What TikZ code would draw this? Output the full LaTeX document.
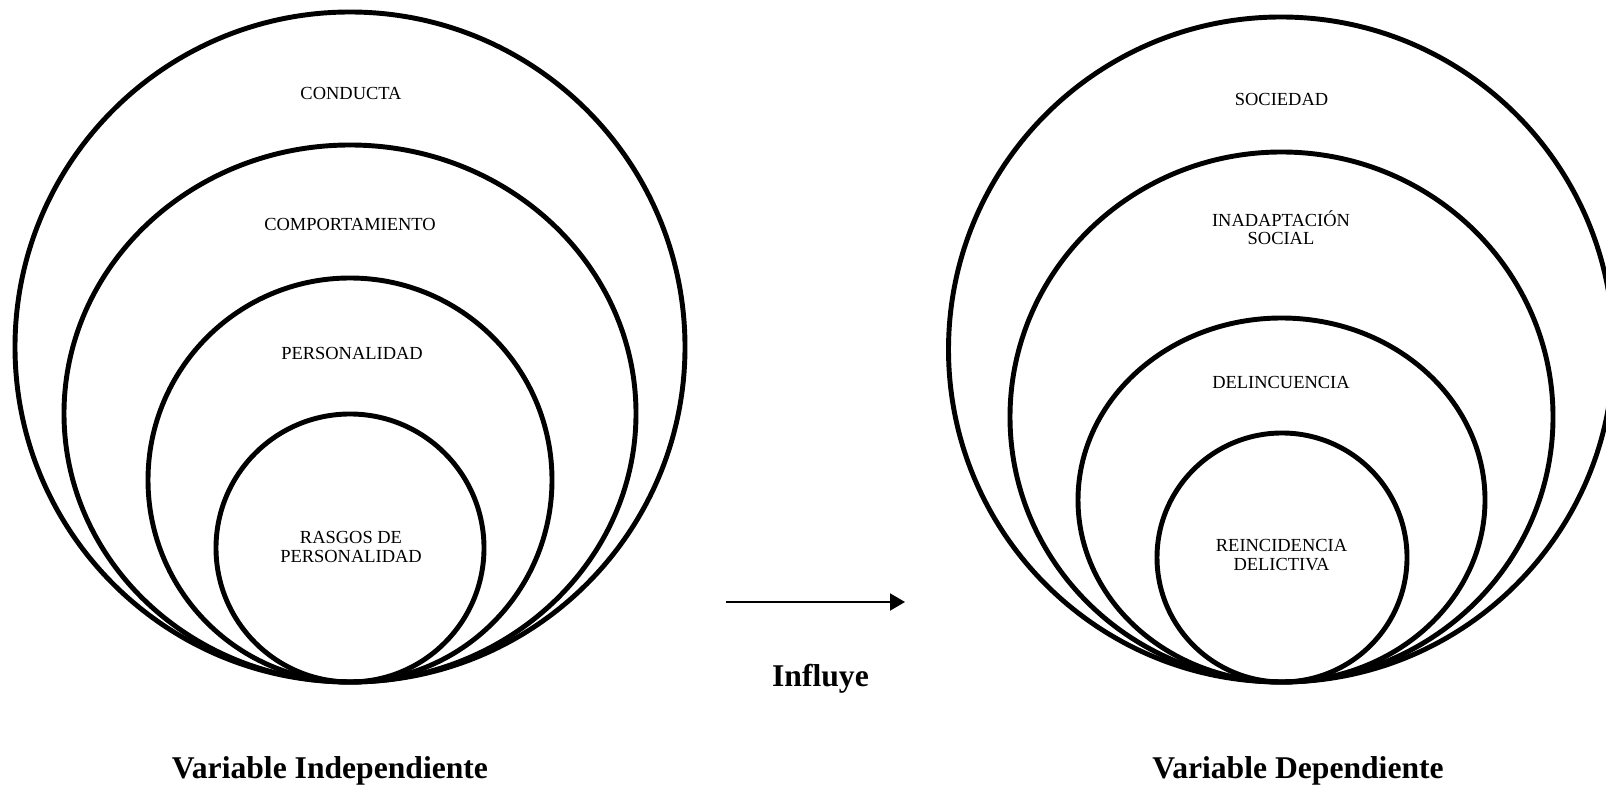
\documentclass[tikz,border=0pt]{standalone}
\usepackage{fontspec}
\setmainfont{Liberation Serif}
\usetikzlibrary{arrows.meta}

\begin{document}
\begin{tikzpicture}[x=0.2mm,y=0.2mm,
  ring/.style={line width=2.8pt},
  lab/.style={font=\fontsize{10.5}{10.8}\selectfont, align=center, anchor=base, inner sep=0pt},
  head/.style={font=\fontsize{18}{20}\selectfont\bfseries, anchor=base, inner sep=0pt}
]
\useasboundingbox (0,0) rectangle (1606,789);
% left set of rings, all touching at the bottom
\foreach \rx/\ry in {335/335,286/268.5,202/202,134/134} {
  \draw[ring] (350,107+\ry) ellipse [x radius=\rx, y radius=\ry];
}
% right set of rings
\foreach \cx/\rx/\ry in {1281/332.5/332.5,1281.5/271.5/265,1281.5/203.5/182,1282/125/124.5} {
  \draw[ring] (\cx,107+\ry) ellipse [x radius=\rx, y radius=\ry];
}
\node[lab] (conducta) at (351,689.7) {CONDUCTA};
\node[lab] (comport) at (350,558.3) {COMPORTAMIENTO};
\node[lab] (personal) at (352,429) {PERSONALIDAD};
\node[lab] (rasgos) at (351,226.7) {RASGOS DE\\PERSONALIDAD};
\node[lab] (sociedad) at (1281.5,683) {SOCIEDAD};
\node[lab] (inadapt) at (1281,544) {INADAPTACIÓN\\SOCIAL};
\node[lab] (delinc) at (1281,400) {DELINCUENCIA};
\node[lab] (reinc) at (1281.5,218.3) {REINCIDENCIA\\DELICTIVA};
% arrow between the two variables
\coordinate (inS) at (726,187);
\coordinate (inE) at (905,187);
\draw[line width=1.1pt, -{Triangle[length=3mm,width=3.4mm]}] (inS) -- (inE);
\node[head] (influye) at (820.5,103) {Influye};
\node[head] (varind) at (330,11) {Variable Independiente};
\node[head] (vardep) at (1298,11) {Variable Dependiente};
\end{tikzpicture}
\end{document}
